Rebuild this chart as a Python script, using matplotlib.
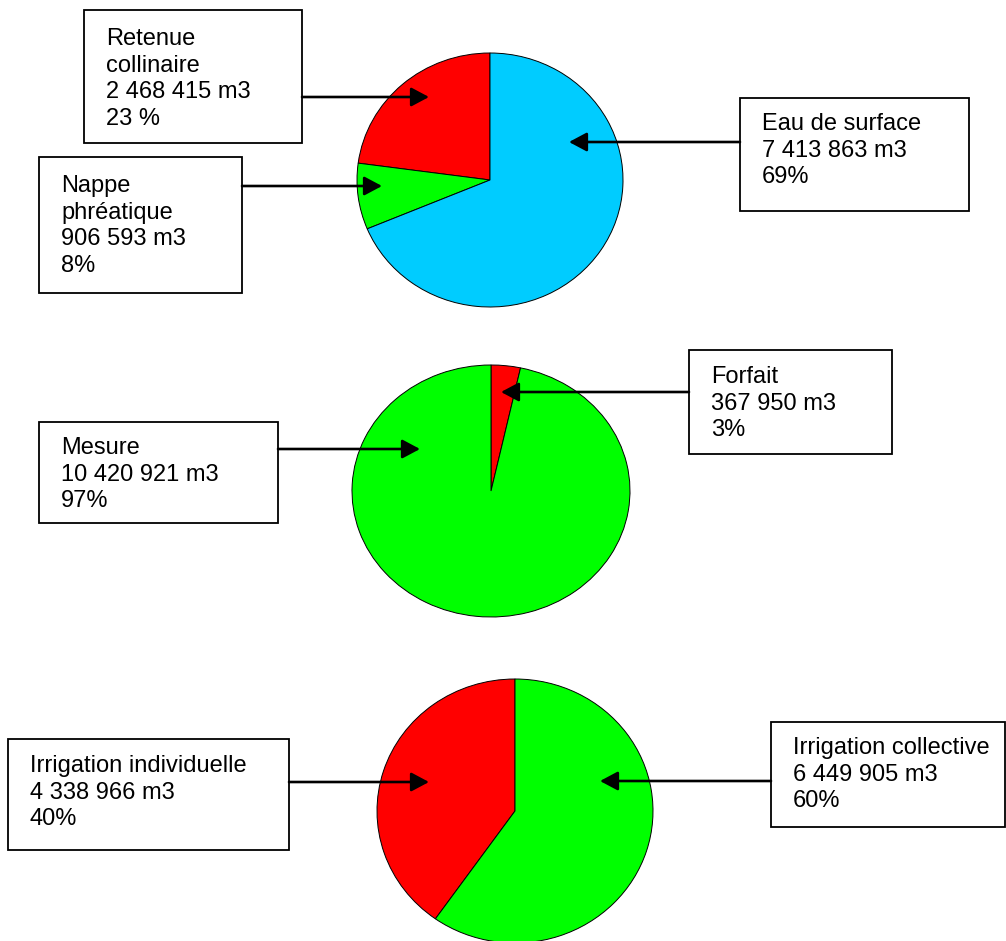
import matplotlib
matplotlib.use("Agg")
import matplotlib.pyplot as plt
from matplotlib.patches import Rectangle

plt.rcParams['font.family'] = ['Liberation Sans', 'DejaVu Sans']

# data: origine de l'eau
src_names = ['Retenue\ncollinaire', 'Nappe\nphréatique', 'Eau de surface']
src_values = [2468415, 906593, 7413863]
src_pcts = ['23 %', '8%', '69%']
src_colors = ['#ff0000', '#00ff00', '#00ccff']

# data: mode de facturation
mode_names = ['Forfait', 'Mesure']
mode_values = [367950, 10420921]
mode_pcts = ['3%', '97%']
mode_colors = ['#ff0000', '#00ff00']

# data: type d'irrigation
irr_names = ['Irrigation individuelle', 'Irrigation collective']
irr_values = [4338966, 6449905]
irr_pcts = ['40%', '60%']
irr_colors = ['#ff0000', '#00ff00']

W, H = 1006, 941
fig = plt.figure(figsize=(W / 100, H / 100), dpi=100)

# main overlay axes in pixel coords (boxes, text, arrows)
ax = fig.add_axes([0, 0, 1, 1], zorder=5)
ax.set_xlim(0, W)
ax.set_ylim(H, 0)
ax.axis('off')


def fmt(v):
    return '{:,}'.format(v).replace(',', ' ') + ' m3'


def draw_pie(bbox, values, colors, counterclock):
    x0, y0, x1, y1 = bbox
    pax = fig.add_axes([x0 / W, 1 - y1 / H, (x1 - x0) / W, (y1 - y0) / H], zorder=1)
    wedges, _ = pax.pie(values, colors=colors, startangle=90, counterclock=counterclock,
                        wedgeprops=dict(edgecolor='black', linewidth=0.7))
    for w in wedges:
        w.set_clip_on(False)
    pax.set_aspect('auto')
    pax.set_xlim(-1, 1)
    pax.set_ylim(-1, 1)
    pax.axis('off')


def draw_box(box, lines, first_base, arrow_from, arrow_to):
    x0, y0, x1, y1 = box
    ax.add_patch(Rectangle((x0, y0), x1 - x0, y1 - y0, facecolor='white',
                           edgecolor='black', linewidth=1.3))
    for i, ln in enumerate(lines):
        ax.text(x0 + 22, first_base + i * 26.7, ln, fontsize=17, va='baseline', ha='left')
    ax.annotate('', xy=arrow_to, xytext=arrow_from,
                arrowprops=dict(arrowstyle='-|>,head_length=0.6,head_width=0.32',
                                mutation_scale=18, lw=1.9, color='black',
                                shrinkA=0, shrinkB=0))


def label_lines(name, value, pct):
    return name.split('\n') + [fmt(value), pct]


# pie 1
draw_pie((357, 53, 623, 307), src_values, src_colors, True)
draw_box((84, 10, 302, 143), label_lines(src_names[0], src_values[0], src_pcts[0]), 45,
         (302, 97), (429, 97))
draw_box((39, 157, 242, 293), label_lines(src_names[1], src_values[1], src_pcts[1]), 192,
         (242, 186), (382, 186))
draw_box((740, 98, 969, 211), label_lines(src_names[2], src_values[2], src_pcts[2]), 130,
         (740, 142), (569, 142))

# pie 2
draw_pie((352, 365, 630, 617), mode_values, mode_colors, False)
draw_box((689, 350, 892, 454), label_lines(mode_names[0], mode_values[0], mode_pcts[0]), 383,
         (689, 392), (501, 392))
draw_box((39, 422, 278, 523), label_lines(mode_names[1], mode_values[1], mode_pcts[1]), 454,
         (278, 449), (420, 449))

# pie 3
draw_pie((377, 679, 653, 943), irr_values, irr_colors, True)
draw_box((8, 739, 289, 850), label_lines(irr_names[0], irr_values[0], irr_pcts[0]), 772,
         (289, 782), (429, 782))
draw_box((771, 722, 1005, 827), label_lines(irr_names[1], irr_values[1], irr_pcts[1]), 754,
         (771, 781), (600, 781))

fig.savefig('out.png', dpi=100)
